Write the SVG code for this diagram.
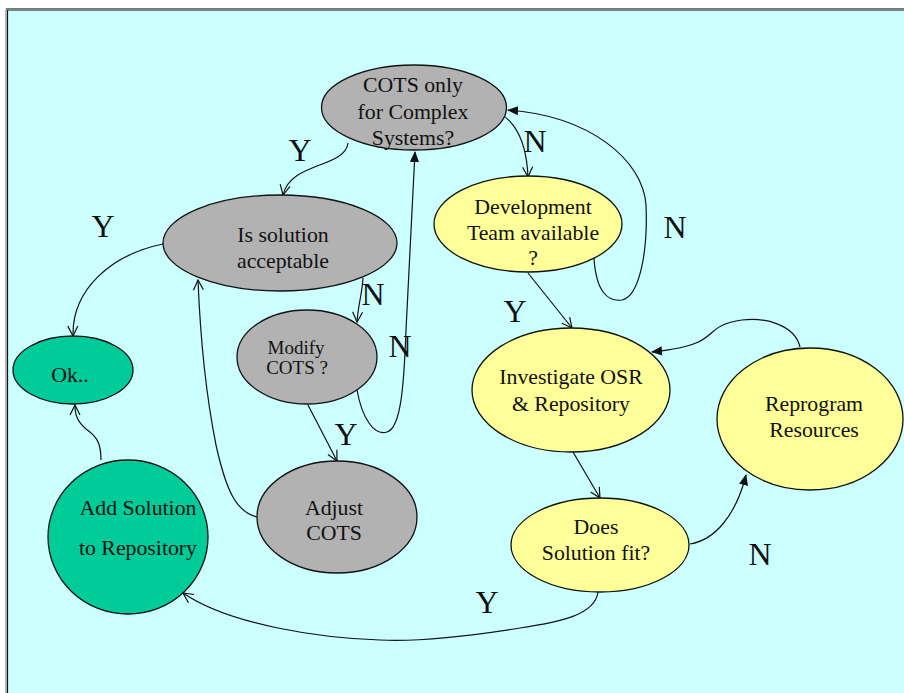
<svg xmlns="http://www.w3.org/2000/svg" width="904" height="693" viewBox="0 0 904 693">
<defs>
<style>
.n{stroke:#111;stroke-width:1.3}
.gray{fill:#B2B2B2}
.yel{fill:#FFFF99}
.grn{fill:#00CC99}
.t{font-size:21.8px}
.ts{font-size:19px}
.lab{font-size:32px}
.c{fill:none;stroke:#111;stroke-width:1.2}
.o{marker-end:url(#open)}
.f{marker-end:url(#fill)}
</style>
<marker id="open" viewBox="0 0 12 12" refX="11" refY="6" markerWidth="12" markerHeight="12" markerUnits="userSpaceOnUse" orient="auto">
<path d="M1,1 L11,6 L1,11" fill="none" stroke="#111" stroke-width="1.2"/>
</marker>
<marker id="fill" viewBox="0 0 12 12" refX="11" refY="6" markerWidth="11" markerHeight="11" markerUnits="userSpaceOnUse" orient="auto">
<path d="M0,1 L12,6 L0,11 Z" fill="#111"/>
</marker>
</defs>
<rect x="0" y="0" width="904" height="693" fill="#FFFFFF"/>
<rect x="7" y="9.5" width="897" height="683.5" fill="#CCFFFF"/>
<path d="M6,693 L6,8.5 L904,8.5" fill="none" stroke="#777" stroke-width="1"/>
<path d="M7.5,693 L7.5,10 L904,10" fill="none" stroke="#111" stroke-width="1.2"/>
<g id="connectors">
<path class="c o" d="M348,143 C345,168 290,162 283,195"/>
<path class="c o" d="M488,110 C505,112 526,128 528,177"/>
<path class="c f" d="M594,258 C596,292 608,302 622,300 C640,296 648,250 646,205 C643,160 590,116 508,110"/>
<path class="c o" d="M163,244 C110,255 72,290 73,336"/>
<path class="c o" d="M363,278 C362,295 358,305 357,322"/>
<path class="c f" d="M357,390 C362,418 374,436 387,432 C401,428 404,385 406,330 L415,152"/>
<path class="c o" d="M308,405 L337,461"/>
<path class="c o" d="M257,517 C236,512 226,490 216,445 C205,390 200,330 198,280"/>
<path class="c o" d="M101,460 C101,442 96,436 86,429 C77,421 75,415 75,405"/>
<path class="c o" d="M528,273 L572,328"/>
<path class="c o" d="M573,452 L600,498"/>
<path class="c f" d="M690,544 C715,540 736,515 746,475"/>
<path class="c f" d="M800,347 C795,325 765,317 742,320 C712,324 714,336 696,343 C685,348 670,350 652,352"/>
<path class="c o" d="M598,592 C595,615 560,622 520,628 C470,636 420,642 380,640 C320,638 230,625 183,593"/>
</g>
<g font-family="'Liberation Serif', 'Times New Roman', serif" fill="#111" text-anchor="middle">
<g id="cots"><ellipse class="n gray" cx="414" cy="107.5" rx="92.5" ry="42.5"/>
<text class="t" x="413" y="92">COTS only</text><text class="t" x="413" y="119">for Complex</text><text class="t" x="413" y="145">Systems?</text></g>
<g id="accept"><ellipse class="n gray" cx="280" cy="243" rx="117" ry="48"/>
<text class="t" x="283" y="242">Is solution</text><text class="t" x="283" y="268">acceptable</text></g>
<g id="ok"><ellipse class="n grn" cx="73" cy="370" rx="60" ry="34"/>
<text class="t" x="70" y="382">Ok..</text></g>
<g id="modify"><ellipse class="n gray" cx="307" cy="357" rx="70" ry="47"/>
<text class="ts" x="296" y="354">Modify</text><text class="ts" x="297" y="374">COTS ?</text></g>
<g id="adjust"><ellipse class="n gray" cx="337" cy="517" rx="80" ry="56"/>
<text class="t" x="334" y="515">Adjust</text><text class="t" x="334" y="540">COTS</text></g>
<g id="addsol"><ellipse class="n grn" cx="128" cy="537" rx="80" ry="77"/>
<text class="t" x="138" y="515">Add Solution</text><text class="t" x="138" y="555">to Repository</text></g>
<g id="devteam"><ellipse class="n yel" cx="528" cy="224" rx="94" ry="48"/>
<text class="t" x="533" y="214">Development</text><text class="t" x="533" y="240">Team available</text><text class="t" x="533" y="265">?</text></g>
<g id="investigate"><ellipse class="n yel" cx="571" cy="390" rx="99" ry="62"/>
<text class="t" x="571" y="384">Investigate OSR</text><text class="t" x="571" y="411">&amp; Repository</text></g>
<g id="reprogram"><ellipse class="n yel" cx="810" cy="419" rx="93" ry="71"/>
<text class="t" x="814" y="411">Reprogram</text><text class="t" x="814" y="437">Resources</text></g>
<g id="doesfit"><ellipse class="n yel" cx="600" cy="545" rx="89" ry="47"/>
<text class="t" x="596" y="534">Does</text><text class="t" x="596" y="560">Solution fit?</text></g>
<g id="labels">
<text class="lab" x="300" y="161">Y</text>
<text class="lab" x="103" y="237">Y</text>
<text class="lab" x="535" y="152">N</text>
<text class="lab" x="675" y="238">N</text>
<text class="lab" x="515" y="322">Y</text>
<text class="lab" x="373" y="305">N</text>
<text class="lab" x="400" y="357">N</text>
<text class="lab" x="346" y="445">Y</text>
<text class="lab" x="760" y="565">N</text>
<text class="lab" x="487" y="613">Y</text>
</g>
</g>
</svg>
